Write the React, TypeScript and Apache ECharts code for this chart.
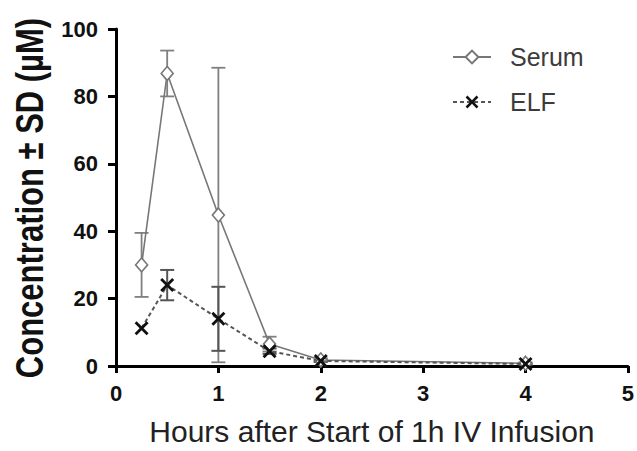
import React, { useEffect, useRef } from "react";
import * as echarts from "echarts";

const times = [0.25, 0.5, 1, 1.5, 2, 4];
const serumMean = [30, 86.8, 44.8, 6.5, 1.8, 0.8];
const serumSD = [9.5, 6.8, 43.7, 2.2, 0.5, 0.3];
const elfMean = [11.2, 24, 14, 4.4, 1.5, 0.6];
const elfSD = [0, 4.5, 9.5, 0.8, 0.3, 0.2];
const xTicks = [0, 1, 2, 3, 4, 5];
const yTicks = [0, 20, 40, 60, 80, 100];

const X_PATH =
  "path://M2,0 L7,5 L12,0 L14,2 L9,7 L14,12 L12,14 L7,9 L2,14 L0,12 L5,7 L0,2 Z";

function errData(mean: number[], sd: number[]) {
  return times.map((t, i) => [t, mean[i] - sd[i], mean[i] + sd[i], sd[i]]);
}

function errSeries(name: string, mean: number[], sd: number[], color: string, width: number) {
  return {
    type: "custom",
    name: name + " SD",
    z: 1,
    silent: true,
    data: errData(mean, sd),
    renderItem: (params: any, api: any) => {
      const x = api.value(0);
      const lo = api.value(1);
      const hi = api.value(2);
      if (api.value(3) <= 0) return { type: "group", children: [] };
      const p1 = api.coord([x, lo]);
      const p2 = api.coord([x, hi]);
      const w = 7;
      const st = { stroke: color, lineWidth: width };
      return {
        type: "group",
        children: [
          { type: "line", shape: { x1: p1[0], y1: p1[1], x2: p2[0], y2: p2[1] }, style: st },
          { type: "line", shape: { x1: p1[0] - w, y1: p1[1], x2: p1[0] + w, y2: p1[1] }, style: st },
          { type: "line", shape: { x1: p2[0] - w, y1: p2[1], x2: p2[0] + w, y2: p2[1] }, style: st },
        ],
      };
    },
  };
}

export default function App() {
  const ref = useRef<HTMLDivElement>(null);
  useEffect(() => {
    const chart = echarts.init(ref.current!, null, { renderer: "svg" });
    const font = "Liberation Sans, Arial, sans-serif";
    chart.setOption({
      animation: false,
      backgroundColor: "#ffffff",
      textStyle: { fontFamily: font },
      grid: { left: 116, right: 6, top: 29, bottom: 78 },
      legend: {
        orient: "vertical",
        left: 447,
        top: 39,
        itemWidth: 38,
        itemHeight: 16,
        itemGap: 19,
        data: ["Serum", "ELF"],
        textStyle: {
          fontFamily: font,
          fontSize: 25,
          lineHeight: 26,
          color: "#3c3c3c",
          padding: [0, 0, 0, 14],
        },
      },
      xAxis: {
        type: "value",
        min: xTicks[0],
        max: xTicks[xTicks.length - 1],
        interval: 1,
        name: "Hours after Start of 1h IV Infusion",
        nameLocation: "middle",
        nameGap: 50,
        nameTextStyle: { fontFamily: font, fontSize: 30, color: "#222" },
        axisLine: { lineStyle: { color: "#000", width: 3 } },
        axisTick: { length: 7, lineStyle: { color: "#000", width: 3 } },
        axisLabel: { margin: 16, fontSize: 22, fontWeight: "bold", color: "#111", fontFamily: font },
        splitLine: { show: false },
      },
      yAxis: {
        type: "value",
        min: yTicks[0],
        max: yTicks[yTicks.length - 1],
        interval: 20,
        axisLine: { show: true, lineStyle: { color: "#000", width: 3 } },
        axisTick: { show: true, length: 8, lineStyle: { color: "#000", width: 3 } },
        axisLabel: { margin: 18, fontSize: 22, fontWeight: "bold", color: "#111", fontFamily: font },
        splitLine: { show: false },
      },
      graphic: [
        {
          type: "text",
          x: 29,
          y: 198,
          rotation: Math.PI / 2,
          scaleX: 1,
          scaleY: 1.25,
          style: {
            text: "Concentration ± SD (µM)",
            font: "bold 31px Liberation Sans, Arial, sans-serif",
            fill: "#111",
            textAlign: "center",
            textVerticalAlign: "middle",
          },
        },
      ],
      series: [
        errSeries("Serum", serumMean, serumSD, "#808080", 1.8),
        errSeries("ELF", elfMean, elfSD, "#555555", 2),
        {
          type: "line",
          name: "Serum",
          z: 3,
          data: times.map((t, i) => [t, serumMean[i]]),
          symbol: "diamond",
          symbolSize: [12, 14],
          showAllSymbol: true,
          lineStyle: { color: "#777", width: 1.6 },
          itemStyle: { color: "#fff", borderColor: "#777", borderWidth: 1.6 },
        },
        {
          type: "line",
          name: "ELF",
          z: 4,
          data: times.map((t, i) => [t, elfMean[i]]),
          symbol: X_PATH,
          symbolSize: 14,
          showAllSymbol: true,
          lineStyle: { color: "#555", width: 2, type: [4, 3] },
          itemStyle: { color: "#111" },
        },
      ],
    });
    return () => chart.dispose();
  }, []);
  return <div ref={ref} style={{ width: 637, height: 451, position: "absolute", left: 0, top: 0 }} />;
}
